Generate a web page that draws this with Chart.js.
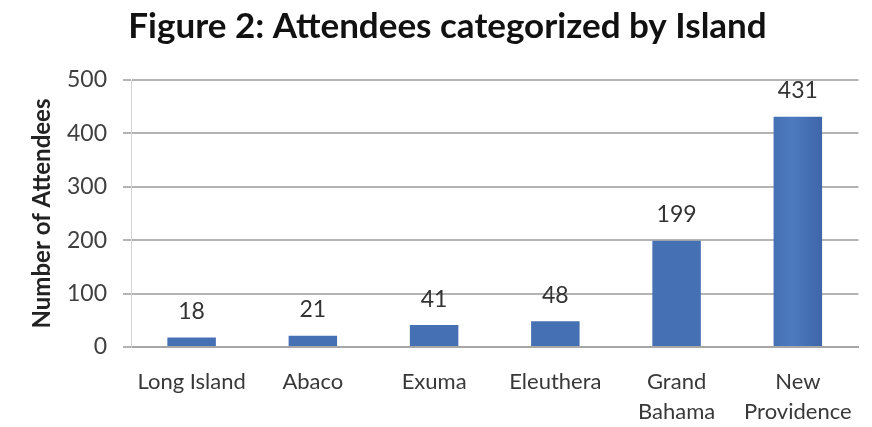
<!DOCTYPE html>
<html>
<head>
<meta charset="utf-8">
<script src="https://cdn.jsdelivr.net/npm/chart.js@4/dist/chart.umd.min.js"></script>
<style>
  html, body { margin: 0; padding: 0; background: #fff; }
  #wrap { width: 872px; height: 427px; }
</style>
</head>
<body>
<div id="wrap"><canvas id="islandChart" width="872" height="427"></canvas></div>
<script>
// Data
const islands = [['Long Island'], ['Abaco'], ['Exuma'], ['Eleuthera'], ['Grand', 'Bahama'], ['New', 'Providence']];
const attendees = [18, 21, 41, 48, 199, 431];
const yTicks = [0, 100, 200, 300, 400, 500];

const FONT = 'Lato, "Noto Sans", sans-serif';

// Shaded bars, a bit like the old Excel look
const barShading = {
    id: 'barShading',
    beforeDatasetsDraw(chart) {
        const ctx = chart.ctx;
        chart.getDatasetMeta(0).data.forEach(bar => {
            const left = bar.x - bar.width / 2;
            const g = ctx.createLinearGradient(left, 0, left + bar.width, 0);
            g.addColorStop(0, '#4570b4');
            g.addColorStop(0.4, '#4d7abf');
            g.addColorStop(1, '#3e66a9');
            bar.options.backgroundColor = g;
        });
    }
};

// Value labels above each bar
const valueLabels = {
    id: 'valueLabels',
    afterDatasetsDraw(chart) {
        const ctx = chart.ctx;
        ctx.save();
        ctx.font = '23px ' + FONT;
        ctx.fillStyle = '#333';
        ctx.textAlign = 'center';
        ctx.textBaseline = 'middle';
        chart.getDatasetMeta(0).data.forEach((bar, i) => {
            ctx.fillText(attendees[i], bar.x, bar.y - 26);
        });
        ctx.restore();
    }
};

new Chart(document.getElementById('islandChart'), {
    type: 'bar',
    data: {
        labels: islands,
        datasets: [{
            data: attendees,
            backgroundColor: '#4a74b8',
            categoryPercentage: 1,
            barPercentage: 0.4
        }]
    },
    options: {
        responsive: false,
        animation: false,
        devicePixelRatio: 1,
        layout: { padding: { left: 28, right: 5, top: 0, bottom: 0 } },
        plugins: {
            legend: { display: false },
            tooltip: { enabled: false },
            title: {
                display: true,
                text: 'Figure 2: Attendees categorized by Island',
                color: '#111',
                font: { family: FONT, size: 35, weight: 'bold', lineHeight: 1.2 },
                padding: { top: 6, bottom: 32 }
            }
        },
        scales: {
            x: {
                afterFit(axis) { axis.height = 80; },
                grid: { display: false, drawTicks: false },
                border: { display: true, color: '#a6a6a6', width: 2 },
                ticks: {
                    color: '#383838',
                    font: { family: FONT, size: 22, lineHeight: 1.36 },
                    padding: 20,
                    maxRotation: 0,
                    autoSkip: false
                }
            },
            y: {
                min: 0,
                max: 500,
                afterBuildTicks(axis) { axis.ticks = yTicks.map(v => ({ value: v })); },
                afterFit(axis) { axis.width = 103; },
                grid: { color: '#b4b4b4', lineWidth: 2, tickLength: 8 },
                border: { display: true, color: '#d4d4d4', width: 1 },
                ticks: {
                    color: '#404040',
                    font: { family: FONT, size: 23 },
                    padding: 16
                },
                title: {
                    display: true,
                    text: 'Number of Attendees',
                    color: '#222',
                    font: { family: FONT, size: 24, weight: 'bold', lineHeight: 1.2 },
                    padding: { top: 0, bottom: 9 }
                }
            }
        }
    },
    plugins: [barShading, valueLabels]
});
</script>
</body>
</html>
